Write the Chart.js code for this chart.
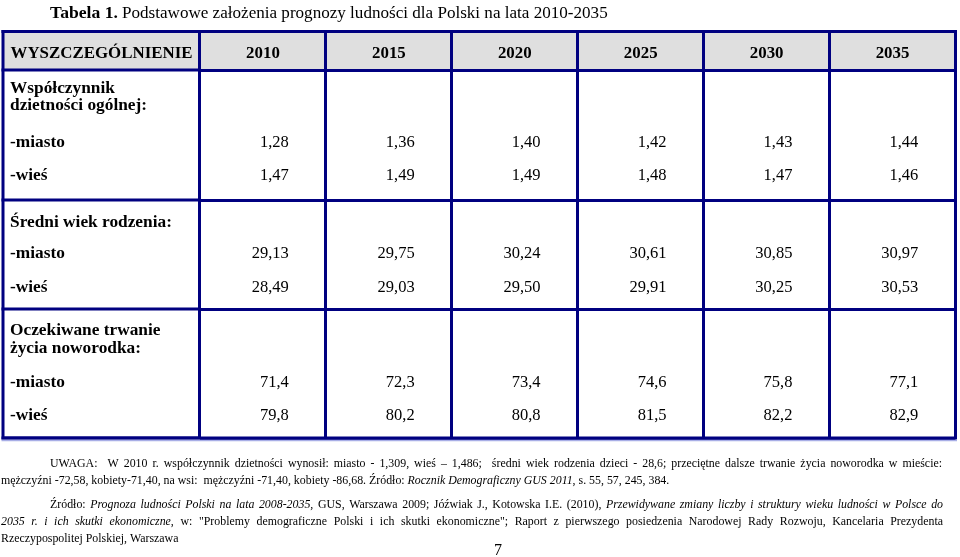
<!DOCTYPE html>
<html><head><meta charset="utf-8">
<script src="https://cdn.jsdelivr.net/npm/chart.js@4.4.1/dist/chart.umd.min.js"></script>
<style>html,body{margin:0;padding:0;background:#fff;overflow:hidden}canvas{display:block}</style>
</head><body>
<canvas id="c" width="960" height="557"></canvas>
<script>
// ---------- DATA ----------
const titleBold = 'Tabela 1.';
const titleText = 'Podstawowe założenia prognozy ludności dla Polski na lata 2010-2035';
const headerLabel = 'WYSZCZEGÓLNIENIE';
const years = ['2010', '2015', '2020', '2025', '2030', '2035'];
const sectionTitles = [['Współczynnik', 'dzietności ogólnej:'], ['Średni wiek rodzenia:'], ['Oczekiwane trwanie', 'życia noworodka:']];
const rowLabels = ['-miasto', '-wieś'];
const fertilityUrban = [1.28, 1.36, 1.40, 1.42, 1.43, 1.44];
const fertilityRural = [1.47, 1.49, 1.49, 1.48, 1.47, 1.46];
const ageUrban = [29.13, 29.75, 30.24, 30.61, 30.85, 30.97];
const ageRural = [28.49, 29.03, 29.50, 29.91, 30.25, 30.53];
const lifeUrban = [71.4, 72.3, 73.4, 74.6, 75.8, 77.1];
const lifeRural = [79.8, 80.2, 80.8, 81.5, 82.2, 82.9];
const sectionDecimals = [2, 2, 1];
const noteLines = [
  [{t: 'UWAGA:  W 2010 r. współczynnik dzietności wynosił: miasto - 1,309, wieś – 1,486;  średni wiek rodzenia dzieci - 28,6; przeciętne dalsze trwanie życia noworodka w mieście:'}],
  [{t: 'mężczyźni -72,58, kobiety-71,40, na wsi:  mężczyźni -71,40, kobiety -86,68. Źródło: '}, {t: 'Rocznik Demograficzny GUS 2011', i: true}, {t: ', s. 55, 57, 245, 384.'}],
  [{t: 'Źródło: '}, {t: 'Prognoza ludności Polski na lata 2008-2035', i: true}, {t: ', GUS, Warszawa 2009; Jóźwiak J., Kotowska I.E. (2010), '}, {t: 'Przewidywane zmiany liczby i struktury wieku ludności w Polsce do', i: true}],
  [{t: '2035 r. i ich skutki ekonomiczne', i: true}, {t: ', w: "Problemy demograficzne Polski i ich skutki ekonomiczne"; Raport z pierwszego posiedzenia Narodowej Rady Rozwoju, Kancelaria Prezydenta'}],
  [{t: 'Rzeczypospolitej Polskiej, Warszawa'}]
];
const pageNumber = '7';

// ---------- LAYOUT (table units, y axis) ----------
const TABLE_H = 406.5;
const SEP = [0, 38.5, 168.5, 277.5, 406.5];
const HEAD_BASE = 26.5;
const SECTION_TITLE_BASE = [[61.5, 78.5], [195.5], [303.5, 321.5]];
const ROW_BASE = [[115.5, 148.5], [226.5, 260.5], [355.5, 388.5]];
const LEFT_X = 3, LABEL_X = 10;
const NOTE_BASE = [467, 484, 508, 525, 542];
const NOTE_X = [[50, 942, true], [1, 0, false], [50, 943, true], [1, 943, true], [1, 0, false]];
const LINE = '#000080';
const FAMILY = '"Liberation Serif"';

const seriesValues = [[fertilityUrban, fertilityRural], [ageUrban, ageRural], [lifeUrban, lifeRural]];

// ---------- font fitting ----------
const mctx = document.createElement('canvas').getContext('2d');
function fitSize(style, text, target) {
  mctx.font = style + ' 100px ' + FAMILY;
  return 100 * target / mctx.measureText(text).width;
}
function richWidth(segs, size) {
  let w = 0;
  segs.forEach(s => { mctx.font = (s.i ? 'italic ' : '') + size + 'px ' + FAMILY; w += mctx.measureText(s.t).width; });
  return w;
}
const labelSize = fitSize('bold', 'Średni wiek rodzenia:', 162);
const valueSize = (fitSize('normal', '29,13', 37) + fitSize('normal', '1,28', 29)) / 2;
const headSize = Math.min(fitSize('bold', '2010', 36), fitSize('bold', headerLabel, 182));
const titleBoldSize = fitSize('bold', titleBold, 68);
const titleSize = fitSize('normal', titleText, 486);
const noteSize = 100 * 669 / richWidth(noteLines[1], 100);

function drawRich(ctx, segs, x0, x1, yb, size, justify) {
  const items = [];
  segs.forEach(s => {
    const font = (s.i ? 'italic ' : '') + size + 'px ' + FAMILY;
    s.t.split(/( )/).forEach(p => { if (p === ' ') items.push({sp: true}); else if (p) items.push({t: p, font}); });
  });
  let w = 0, n = 0;
  items.forEach(it => { if (it.sp) n++; else { ctx.font = it.font; it.w = ctx.measureText(it.t).width; w += it.w; } });
  let sw;
  if (justify && n) sw = (x1 - x0 - w) / n; else { ctx.font = size + 'px ' + FAMILY; sw = ctx.measureText(' ').width; }
  let x = x0;
  items.forEach(it => { if (it.sp) x += sw; else { ctx.font = it.font; ctx.fillText(it.t, x, yb); x += it.w; } });
}

const fmt = (v, d) => v.toFixed(d).replace('.', ',');

// ---------- datasets ----------
const datasets = [];
seriesValues.forEach((sec, s) => sec.forEach((vals, r) => {
  datasets.push({
    label: rowLabels[r], decimals: sectionDecimals[s], section: s, row: r,
    data: vals.map((v, i) => ({x: years[i], y: ROW_BASE[s][r], v})),
    showLine: false, pointRadius: 0, pointHoverRadius: 0
  });
}));

const tablePlugin = {
  id: 'table',
  beforeDraw(chart) {
    const {ctx, chartArea: a, scales: {y}} = chart;
    ctx.save();
    ctx.fillStyle = '#fff'; ctx.fillRect(0, 0, chart.width, chart.height);
    ctx.fillStyle = '#dfdfdf';
    const t = y.getPixelForValue(SEP[0]), b = y.getPixelForValue(SEP[1]);
    ctx.fillRect(LEFT_X, t, a.right - LEFT_X, b - t);
    ctx.restore();
  },
  afterDraw(chart) {
    const {ctx, chartArea: a, scales: {x, y}} = chart;
    ctx.save();
    ctx.strokeStyle = LINE; ctx.lineWidth = 3;
    SEP.forEach(v => { const py = y.getPixelForValue(v); ctx.beginPath(); ctx.moveTo(LEFT_X - 1.5, py); ctx.lineTo(a.left, py); ctx.stroke(); });
    ctx.strokeRect(LEFT_X, y.getPixelForValue(0), a.right - LEFT_X, y.getPixelForValue(TABLE_H) - y.getPixelForValue(0));
    ctx.strokeStyle = '#a8aee6'; ctx.lineWidth = 1.5;
    ctx.beginPath(); const by = y.getPixelForValue(TABLE_H) + 2.5; ctx.moveTo(LEFT_X - 1.5, by); ctx.lineTo(a.right + 1.5, by); ctx.stroke();

    ctx.fillStyle = '#000';
    ctx.textBaseline = 'alphabetic';
    ctx.textAlign = 'center';
    ctx.font = 'bold ' + headSize + 'px ' + FAMILY;
    ctx.fillText(headerLabel, (LEFT_X + a.left) / 2, y.getPixelForValue(HEAD_BASE));
    years.forEach((yr, i) => ctx.fillText(yr, x.getPixelForValue(i), y.getPixelForValue(HEAD_BASE)));
    ctx.textAlign = 'left';
    ctx.font = 'bold ' + labelSize + 'px ' + FAMILY;
    sectionTitles.forEach((lines, s) => {
      lines.forEach((ln, k) => ctx.fillText(ln, LABEL_X, y.getPixelForValue(SECTION_TITLE_BASE[s][k])));
      rowLabels.forEach((lb, r) => ctx.fillText(lb, LABEL_X, y.getPixelForValue(ROW_BASE[s][r])));
    });
    const band = x.getPixelForValue(1) - x.getPixelForValue(0);
    ctx.textAlign = 'right';
    ctx.font = valueSize + 'px ' + FAMILY;
    chart.data.datasets.forEach((ds, di) => {
      chart.getDatasetMeta(di).data.forEach((el, i) => {
        ctx.fillText(fmt(ds.data[i].v, ds.decimals), el.x + band * 0.205, el.y);
      });
    });
    ctx.textAlign = 'left';
    ctx.font = 'bold ' + titleBoldSize + 'px ' + FAMILY;
    ctx.fillText(titleBold, 50, 18);
    ctx.font = titleSize + 'px ' + FAMILY;
    ctx.fillText(titleText, 122, 18);
    noteLines.forEach((segs, k) => drawRich(ctx, segs, NOTE_X[k][0], NOTE_X[k][1], NOTE_BASE[k], noteSize, NOTE_X[k][2]));
    ctx.textAlign = 'center';
    ctx.font = '16px "Liberation Serif"';
    ctx.fillText(pageNumber, 498, 555);
    ctx.restore();
  }
};

new Chart(document.getElementById('c'), {
  type: 'line',
  data: {labels: years, datasets},
  options: {
    responsive: false, devicePixelRatio: 1, animation: false, events: [],
    layout: {padding: {left: 200, top: 31.5, right: 4.5, bottom: 119}},
    plugins: {legend: {display: false}, tooltip: {enabled: false}, title: {display: false}},
    scales: {
      x: {type: 'category', offset: true,
          grid: {offset: true, color: LINE, lineWidth: 3, drawTicks: false},
          border: {display: false}, ticks: {display: false}},
      y: {type: 'linear', min: 0, max: TABLE_H, reverse: true,
          afterBuildTicks: s => { s.ticks = SEP.map(v => ({value: v})); },
          grid: {color: LINE, lineWidth: 3, drawTicks: false},
          border: {display: false}, ticks: {display: false}}
    }
  },
  plugins: [tablePlugin]
});
</script>
</body></html>
